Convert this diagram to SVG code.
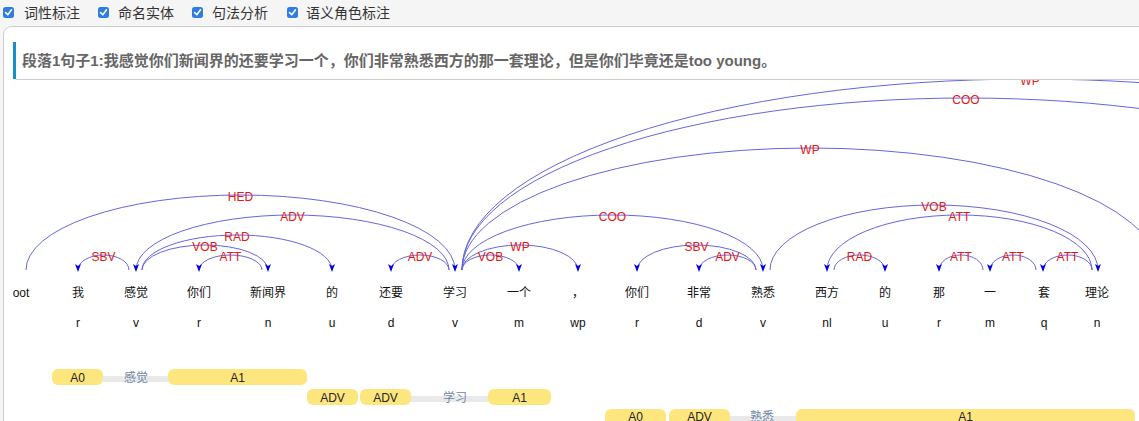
<svg xmlns="http://www.w3.org/2000/svg" width="1139" height="421" viewBox="0 0 1139 421">
<defs>
<style>
.cb{fill:#2f7de1}
.ck{fill:none;stroke:#fff;stroke-width:1.6;stroke-linecap:round;stroke-linejoin:round}
.opt{font-family:"Liberation Sans","Noto Sans CJK SC",sans-serif;font-size:14px;fill:#333}
.hdr{font-family:"Liberation Sans","Noto Sans CJK SC",sans-serif;font-size:15px;font-weight:bold;fill:#666}
.w{font-family:"Liberation Sans","Noto Sans CJK SC",sans-serif;font-size:12px;fill:#111;text-anchor:middle}
.arc{fill:none;stroke:#6666dd;stroke-width:1;marker-end:url(#ah)}
.lb{font-family:"Liberation Sans",sans-serif;font-size:12px;fill:#e31919;text-anchor:middle}
.bar{fill:#fee67f}
.strip{fill:#e9e9e9}
.bt{font-family:"Liberation Sans",sans-serif;font-size:12px;fill:#222;text-anchor:middle}
.pred{font-family:"Liberation Sans","Noto Sans CJK SC",sans-serif;font-size:12px;fill:#6f88a5;text-anchor:middle}
</style>
<marker id="ah" viewBox="0 0 8 6" markerWidth="8" markerHeight="6" refX="6" refY="3" orient="auto" markerUnits="userSpaceOnUse"><path d="M0,0 L8,3 L0,6 L2,3 Z" fill="#0000e0"/></marker>
<clipPath id="clip"><rect x="13" y="80" width="1126" height="341"/></clipPath>
</defs>
<rect x="0" y="0" width="1139" height="421" fill="#f5f5f5"/>
<g id="options">
<rect class="cb" x="3" y="7" width="11" height="11" rx="2.5"/><path class="ck" d="M5.5,12.5 L7.8,14.8 L11.5,9.8"/>
<text class="opt" x="24" y="18">词性标注</text>
<rect class="cb" x="98" y="7" width="11" height="11" rx="2.5"/><path class="ck" d="M100.5,12.5 L102.8,14.8 L106.5,9.8"/>
<text class="opt" x="118" y="18">命名实体</text>
<rect class="cb" x="192" y="7" width="11" height="11" rx="2.5"/><path class="ck" d="M194.5,12.5 L196.8,14.8 L200.5,9.8"/>
<text class="opt" x="212" y="18">句法分析</text>
<rect class="cb" x="287" y="7" width="11" height="11" rx="2.5"/><path class="ck" d="M289.5,12.5 L291.8,14.8 L295.5,9.8"/>
<text class="opt" x="306" y="18">语义角色标注</text>
</g>
<rect x="3.5" y="26.5" width="1200" height="420" rx="8" fill="#fff" stroke="#ccc"/>
<g id="header">
<rect x="13" y="42" width="3" height="37" fill="#1a8fc5"/>
<line x1="16" y1="79.5" x2="1139" y2="79.5" stroke="#ccc"/>
<text class="hdr" x="22" y="66">段落1句子1:我感觉你们新闻界的还要学习一个，你们非常熟悉西方的那一套理论，但是你们毕竟还是too young。</text>
</g>
<g clip-path="url(#clip)">
<g id="connectors">
<path class="arc" d="M129,270 A25.5,15 0 0 0 78,270"/>
<path class="arc" d="M142,270 A63,25 0 0 1 268,270"/>
<path class="arc" d="M262,270 A31.5,15 0 0 0 199,270"/>
<path class="arc" d="M142,270 A95,35 0 0 1 332,270"/>
<path class="arc" d="M449,270 A156.5,55 0 0 0 136,270"/>
<path class="arc" d="M26,270 A214.5,75 0 0 1 455,270"/>
<path class="arc" d="M449,270 A29,15 0 0 0 391,270"/>
<path class="arc" d="M462,270 A28.5,15 0 0 1 519,270"/>
<path class="arc" d="M462,270 A58,25 0 0 1 578,270"/>
<path class="arc" d="M462,270 A150.5,55 0 0 1 763,270"/>
<path class="arc" d="M756,270 A59.5,25 0 0 0 637,270"/>
<path class="arc" d="M756,270 A28.5,15 0 0 0 699,270"/>
<path class="arc" d="M770,270 A164,65 0 0 1 1098,270"/>
<path class="arc" d="M1092,270 A132.5,55 0 0 0 827,270"/>
<path class="arc" d="M834,270 A25.5,15 0 0 1 885,270"/>
<path class="arc" d="M983,270 A22,15 0 0 0 939,270"/>
<path class="arc" d="M1036,270 A23,15 0 0 0 990,270"/>
<path class="arc" d="M1092,270 A24.5,15 0 0 0 1043,270"/>
<path class="arc" d="M462,270 A348,122 0 0 1 1158,270"/>
<path class="arc" d="M462,270 A504,172 0 0 1 1470,270"/>
<path class="arc" d="M462,270 A568,191 0 0 1 1598,270"/>
<text class="lb" x="103.5" y="261">SBV</text>
<text class="lb" x="205" y="251">VOB</text>
<text class="lb" x="230.5" y="261">ATT</text>
<text class="lb" x="237" y="241">RAD</text>
<text class="lb" x="292.5" y="221">ADV</text>
<text class="lb" x="240.5" y="201">HED</text>
<text class="lb" x="420" y="261">ADV</text>
<text class="lb" x="490.5" y="261">VOB</text>
<text class="lb" x="520" y="251">WP</text>
<text class="lb" x="612.5" y="221">COO</text>
<text class="lb" x="696.5" y="251">SBV</text>
<text class="lb" x="727.5" y="261">ADV</text>
<text class="lb" x="934" y="211">VOB</text>
<text class="lb" x="959.5" y="221">ATT</text>
<text class="lb" x="859.5" y="261">RAD</text>
<text class="lb" x="961" y="261">ATT</text>
<text class="lb" x="1013" y="261">ATT</text>
<text class="lb" x="1067.5" y="261">ATT</text>
<text class="lb" x="810" y="154">WP</text>
<text class="lb" x="966" y="104">COO</text>
<text class="lb" x="1030" y="85">WP</text>
</g>
<g id="w0"><text class="w" x="19" y="297">root</text></g>
<g id="w1"><text class="w" x="78" y="297">我</text><text class="w" x="78" y="327">r</text></g>
<g id="w2"><text class="w" x="136" y="297">感觉</text><text class="w" x="136" y="327">v</text></g>
<g id="w3"><text class="w" x="199" y="297">你们</text><text class="w" x="199" y="327">r</text></g>
<g id="w4"><text class="w" x="268" y="297">新闻界</text><text class="w" x="268" y="327">n</text></g>
<g id="w5"><text class="w" x="332" y="297">的</text><text class="w" x="332" y="327">u</text></g>
<g id="w6"><text class="w" x="391" y="297">还要</text><text class="w" x="391" y="327">d</text></g>
<g id="w7"><text class="w" x="455" y="297">学习</text><text class="w" x="455" y="327">v</text></g>
<g id="w8"><text class="w" x="519" y="297">一个</text><text class="w" x="519" y="327">m</text></g>
<g id="w9"><text class="w" x="578" y="297">，</text><text class="w" x="578" y="327">wp</text></g>
<g id="w10"><text class="w" x="637" y="297">你们</text><text class="w" x="637" y="327">r</text></g>
<g id="w11"><text class="w" x="699" y="297">非常</text><text class="w" x="699" y="327">d</text></g>
<g id="w12"><text class="w" x="763" y="297">熟悉</text><text class="w" x="763" y="327">v</text></g>
<g id="w13"><text class="w" x="827" y="297">西方</text><text class="w" x="827" y="327">nl</text></g>
<g id="w14"><text class="w" x="885" y="297">的</text><text class="w" x="885" y="327">u</text></g>
<g id="w15"><text class="w" x="939" y="297">那</text><text class="w" x="939" y="327">r</text></g>
<g id="w16"><text class="w" x="990" y="297">一</text><text class="w" x="990" y="327">m</text></g>
<g id="w17"><text class="w" x="1044" y="297">套</text><text class="w" x="1044" y="327">q</text></g>
<g id="w18"><text class="w" x="1097" y="297">理论</text><text class="w" x="1097" y="327">n</text></g>
</g>
<g id="srl1">
<rect class="strip" x="100" y="376" width="72" height="6"/>
<rect class="bar" x="52" y="369" width="51" height="16" rx="6"/><text class="bt" x="77.5" y="382">A0</text>
<text class="pred" x="136" y="382">感觉</text>
<rect class="bar" x="168" y="369" width="139" height="16" rx="6"/><text class="bt" x="237.5" y="382">A1</text>
</g>
<g id="srl2">
<rect class="strip" x="408" y="396" width="84" height="6"/>
<rect class="bar" x="307" y="389" width="51" height="16" rx="6"/><text class="bt" x="332.5" y="402">ADV</text>
<rect class="bar" x="360" y="389" width="51" height="16" rx="6"/><text class="bt" x="385.5" y="402">ADV</text>
<text class="pred" x="455" y="402">学习</text>
<rect class="bar" x="488" y="389" width="63" height="16" rx="6"/><text class="bt" x="519.5" y="402">A1</text>
</g>
<g id="srl3">
<rect class="strip" x="727" y="416" width="72" height="6"/>
<rect class="bar" x="605" y="409" width="61" height="16" rx="6"/><text class="bt" x="635.5" y="421">A0</text>
<rect class="bar" x="669" y="409" width="61" height="16" rx="6"/><text class="bt" x="699.5" y="421">ADV</text>
<text class="pred" x="762" y="421">熟悉</text>
<rect class="bar" x="796" y="409" width="339" height="16" rx="6"/><text class="bt" x="965.5" y="421">A1</text>
</g>
</svg>
